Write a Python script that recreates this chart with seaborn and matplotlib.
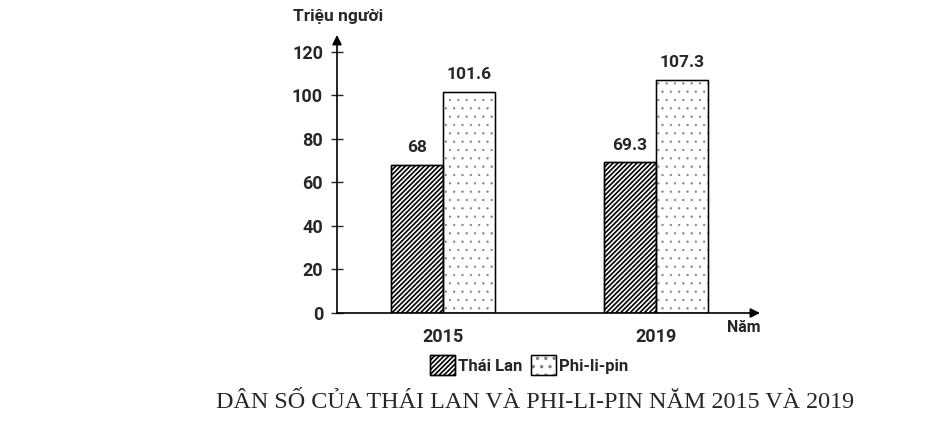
import pandas as pd
import numpy as np
import matplotlib.pyplot as plt
import seaborn as sns
from matplotlib.patches import Patch, Rectangle
from matplotlib.legend_handler import HandlerTuple

years = ['2015', '2019']
countries = ['Thái Lan', 'Phi-li-pin']
thai_lan = [68, 69.3]
phi_li_pin = [101.6, 107.3]
yticks = [0, 20, 40, 60, 80, 100, 120]

df = pd.DataFrame({
    'Năm': years * 2,
    'Quốc gia': [countries[0]] * 2 + [countries[1]] * 2,
    'Dân số': thai_lan + phi_li_pin,
})

sns.set_style('white')
plt.rcParams['font.family'] = ['Roboto', 'DejaVu Sans']
plt.rcParams['hatch.linewidth'] = 1.2

fig = plt.figure(figsize=(9.37, 4.22), dpi=100)
ax = fig.add_axes([337 / 937, 109 / 422, 423 / 937, 278 / 422])

sns.barplot(data=df, x='Năm', y='Dân số', hue='Quốc gia', hue_order=countries,
            palette=['white', 'white'], edgecolor='black', linewidth=1.0,
            width=0.49, gap=0, legend=False, ax=ax)

hatches = ['///////', '..']
hatch_cols = ['black', '0.5']
hatch_lw = [1.2, 0.4]
has_hlw = hasattr(Patch, 'set_hatch_linewidth')
for cont, h, hc, hl in zip(ax.containers, hatches, hatch_cols, hatch_lw):
    for p in cont:
        p.set_hatch(h)
        p.set_edgecolor(hc)
        if has_hlw:
            p.set_hatch_linewidth(hl)
        # black outline on top of the (grey) hatch colour
        ax.add_patch(Rectangle((p.get_x(), p.get_y()), p.get_width(), p.get_height(),
                               fill=False, edgecolor='black', lw=1.0, zorder=p.get_zorder() + 0.1))
    ax.bar_label(cont, labels=[f'{v:g}' for v in cont.datavalues],
                 padding=7, fontsize=12.5, fontweight='bold')

ax.set_xlim(-0.498, 1.49)
ax.set_ylim(0, 127.8)
ax.set_yticks(yticks)
ax.set_yticklabels([str(t) for t in yticks], fontsize=13, fontweight='bold')
ax.set_xticklabels(years, fontsize=13, fontweight='bold')
ax.tick_params(axis='y', direction='inout', length=8, width=1, pad=6, left=True)
ax.tick_params(axis='x', length=0, pad=11)
ax.set_xlabel('')
ax.set_ylabel('')
for s in ax.spines.values():
    s.set_visible(False)

# axes drawn as arrows
ax.annotate('', xy=(0, 1.0), xytext=(0, 0), xycoords='axes fraction',
            arrowprops=dict(arrowstyle='-|>', color='black', lw=1.2,
                            mutation_scale=14, shrinkA=0, shrinkB=0))
ax.annotate('', xy=(1.0, 0), xytext=(0, 0), xycoords='axes fraction',
            arrowprops=dict(arrowstyle='-|>', color='black', lw=1.2,
                            mutation_scale=14, shrinkA=0, shrinkB=0))

fig.text(293 / 937, 1 - 17 / 422, 'Triệu người', fontsize=12.5, fontweight='bold',
         ha='left', va='center')
fig.text(761 / 937, 1 - 328 / 422, 'Năm', fontsize=11.5, fontweight='bold',
         ha='right', va='center')

handles = []
for h, c, hc, hl in zip(hatches, countries, hatch_cols, hatch_lw):
    hp = Patch(facecolor='white', edgecolor=hc, hatch=h)
    if has_hlw:
        hp.set_hatch_linewidth(hl)
    outline = Patch(fill=False, edgecolor='black', lw=1.0)
    handles.append((hp, outline))
fig.legend(handles=handles, labels=countries, loc='center',
           bbox_to_anchor=(529 / 937, 1 - 365 / 422),
           handler_map={tuple: HandlerTuple(ndivide=1, pad=0)},
           ncol=2, frameon=False, prop={'weight': 'bold', 'size': 12},
           handlelength=1.5, handleheight=1.4, handletextpad=0.2, columnspacing=0.5,
           borderpad=0)

fig.text(535 / 937, 1 - 402 / 422, 'DÂN SỐ CỦA THÁI LAN VÀ PHI-LI-PIN NĂM 2015 VÀ 2019',
         fontsize=17.4, family='Liberation Serif', ha='center', va='center')

fig.savefig('out.png', dpi=100)
